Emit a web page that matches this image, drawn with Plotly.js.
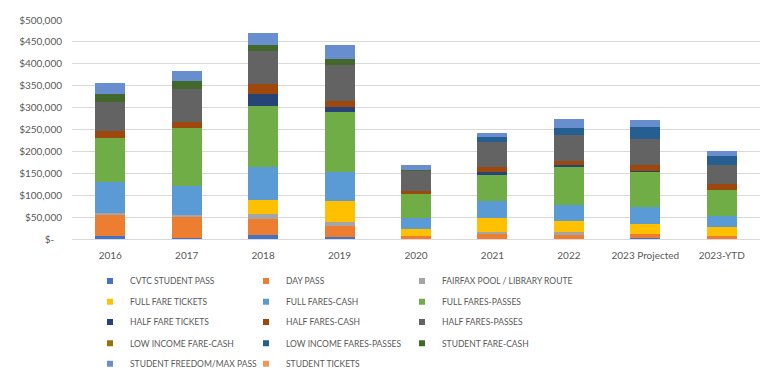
<!DOCTYPE html>
<html>
<head>
<meta charset="utf-8">
<script src="https://cdn.plot.ly/plotly-3.0.1.min.js"></script>
<style>html,body{margin:0;padding:0;background:#fff;}#chart{width:764px;height:375px;}</style>
</head>
<body>
<div id="chart"></div>
<script>
const categories = ['2016','2017','2018','2019','2020','2021','2022','2023 Projected','2023-YTD'];

const seriesNames = [
  'CVTC STUDENT PASS','DAY PASS','FAIRFAX POOL / LIBRARY ROUTE',
  'FULL FARE TICKETS','FULL FARES-CASH','FULL FARES-PASSES',
  'HALF FARE TICKETS','HALF FARES-CASH','HALF FARES-PASSES',
  'LOW INCOME FARE-CASH','LOW INCOME FARES-PASSES','STUDENT FARE-CASH',
  'STUDENT FREEDOM/MAX PASS','STUDENT TICKETS'
];

const cvtcStudentPass     = [8000, 3000, 10000, 5000, 0, 0, 0, 3000, 0];
const dayPass             = [47000, 47000, 35000, 24000, 6000, 12000, 10000, 9000, 7500];
const fairfaxPool         = [5000, 5000, 11000, 10000, 0, 5000, 7000, 0, 0];
const fullFareTickets     = [0, 0, 34000, 47000, 17000, 30000, 25000, 23000, 20000];
const fullFaresCash       = [70000, 67000, 75000, 68000, 24000, 39000, 36000, 38000, 24000];
const fullFaresPasses     = [100000, 131000, 138000, 137000, 56000, 61000, 87000, 81000, 61000];
const halfFareTickets     = [0, 0, 27000, 11000, 0, 5000, 3000, 2000, 0];
const halfFaresCash       = [17000, 15000, 23000, 13000, 6000, 12000, 10000, 14000, 13000];
const halfFaresPasses     = [65000, 74000, 76000, 82000, 46000, 58000, 59000, 58000, 44000];
const lowIncomeFareCash   = [0, 0, 0, 0, 0, 0, 0, 0, 0];
const lowIncomeFaresPasses= [0, 0, 0, 0, 0, 10000, 17000, 28000, 20000];
const studentFareCash     = [20000, 19000, 14000, 15000, 3000, 0, 0, 0, 0];
const studentFreedomMax   = [24000, 23000, 28000, 32000, 12000, 11000, 20000, 15000, 11000];
const studentTickets      = [0, 0, 0, 0, 0, 0, 0, 0, 0];

const yTickVals = [0, 50000, 100000, 150000, 200000, 250000, 300000, 350000, 400000, 450000, 500000];
const yTickText = ['$-\u00a0\u00a0\u00a0','$50,000','$100,000','$150,000','$200,000','$250,000','$300,000','$350,000','$400,000','$450,000','$500,000'];

const seriesValues = [
  cvtcStudentPass, dayPass, fairfaxPool, fullFareTickets, fullFaresCash, fullFaresPasses,
  halfFareTickets, halfFaresCash, halfFaresPasses, lowIncomeFareCash, lowIncomeFaresPasses,
  studentFareCash, studentFreedomMax, studentTickets
];

const colors = ['#4472C4','#ED7D31','#A5A5A5','#FFC000','#5B9BD5','#70AD47',
                '#264478','#9E480E','#636363','#997300','#255E91','#43682B',
                '#698ED0','#F1975A'];

const legendIds = ['legend','legend2','legend3','legend4','legend5'];

const traces = [];
seriesNames.forEach((name, i) => {
  traces.push({
    type: 'bar', name: name, x: categories, y: seriesValues[i],
    marker: {color: colors[i], line: {width: 0}},
    showlegend: false, hoverinfo: 'name+y'
  });
});
// legend proxies (small squares like the original legend)
seriesNames.forEach((name, i) => {
  const t = {
    type: 'scatter', mode: 'markers', name: name, x: [null], y: [null],
    marker: {color: colors[i], symbol: 'square', size: 6},
    legend: legendIds[Math.floor(i / 3)], showlegend: true, hoverinfo: 'skip'
  };
  if (i % 3 === 2) t.legendwidth = 170;
  traces.push(t);
});

const rowY = [281, 301.7, 322, 343.3, 363.7];
const plotTop = 20, plotBottom = 239;
const legendFont = {family: 'Lato, "Open Sans", sans-serif', size: 8.5, color: '#595959'};

const layout = {
  width: 764, height: 375,
  margin: {l: 72, r: 4, t: plotTop, b: 375 - plotBottom, autoexpand: false},
  paper_bgcolor: '#fff', plot_bgcolor: '#fff',
  barmode: 'stack', bargap: 0.608,
  font: {family: 'Lato, "Open Sans", sans-serif', size: 10, color: '#595959'},
  xaxis: {
    type: 'category', showgrid: false, showline: true, linecolor: '#d9d9d9', linewidth: 1,
    ticks: '', tickfont: {size: 10, color: '#595959'}, ticklabelstandoff: 7, fixedrange: true
  },
  yaxis: {
    range: [0, 500000], tickvals: yTickVals, ticktext: yTickText,
    showgrid: true, gridcolor: '#d9d9d9', gridwidth: 1, zeroline: false,
    ticks: '', tickfont: {size: 10, color: '#595959'}, ticklabelstandoff: 9, fixedrange: true
  },
  showlegend: true
};

legendIds.forEach((id, r) => {
  layout[id] = {
    orientation: 'h', x: (110 - 20 - 72) / 688, xanchor: 'left',
    y: (plotBottom - rowY[r]) / (plotBottom - plotTop), yanchor: 'middle',
    entrywidth: 111, entrywidthmode: 'pixels',
    traceorder: 'normal', font: legendFont, bgcolor: 'rgba(0,0,0,0)',
    borderwidth: 0, itemclick: false, itemdoubleclick: false
  };
});

Plotly.newPlot('chart', traces, layout, {displayModeBar: false, staticPlot: true});
</script>
</body>
</html>
